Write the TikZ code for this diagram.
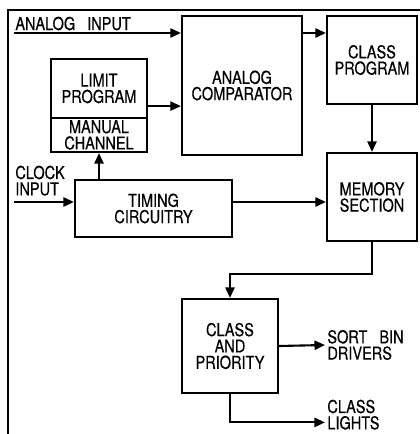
\documentclass[tikz,border=0pt]{standalone}
\usepackage{fontspec}
\setmainfont[FakeStretch=0.82, FakeBold=0.4]{TeX Gyre Heros}
\usetikzlibrary{arrows.meta}
\tikzset{
  blk/.style={draw, line width=1.5pt, align=center, inner sep=0pt},
  lbl/.style={align=left, inner sep=1.5pt},
  flow/.style={line width=1.5pt, -{Triangle[length=7.5pt,width=6.5pt]}},
}
\begin{document}
\begin{tikzpicture}[x=0.025cm, y=-0.025cm, font=\fontsize{12.6}{11.6}\selectfont]
        \useasboundingbox (0,0) rectangle (420,434);
        % Frame on the left and top.
            \draw[line width=0.9pt] (8,434) -- (8,10) -- (420,10);
        % The blocks.
            \node[blk, minimum width=2.4cm, minimum height=1.475cm] (limit) at (99,88.5) {LIMIT\\PROGRAM};
            \node[blk, minimum width=2.4cm, minimum height=0.85cm] (manual) at (99,135) {MANUAL\\CHANNEL};
            \node[blk, minimum width=3cm, minimum height=3.475cm] (comp) at (242,85.5) {ANALOG\\COMPARATOR};
            \node[blk, minimum width=2.25cm, minimum height=2.2cm] (cprog) at (372,60) {CLASS\\PROGRAM};
            \node[blk, minimum width=2.25cm, minimum height=2.2cm] (mem) at (372,197) {MEMORY\\SECTION};
            \node[blk, minimum width=3.925cm, minimum height=1.425cm] (timing) at (153.5,208.5) {TIMING\\CIRCUITRY};
            \node[blk, minimum width=2.4cm, minimum height=2.35cm] (prio) at (230,346) {CLASS\\AND\\PRIORITY};
        % Below nodes are the labels.
            \node[lbl, anchor=base west] (ainl) at (13,30) {ANALOG\hspace{0.3cm}INPUT};
            \node[lbl, anchor=south west] (clkl) at (13,198) {CLOCK\\INPUT};
            \node[lbl, anchor=west] (sort) at (325,345) {SORT\hspace{0.3cm}BIN\\DRIVERS};
            \node[lbl, anchor=south west] (lights) at (325,432) {CLASS\\LIGHTS};
        % Inputs and connectors.
            \coordinate (ain) at (14,33);
            \coordinate (clk) at (14,202);
            \coordinate (lc) at ([yshift=-0.44cm]limit.east);
            \draw[flow] (ain) -- (ain -| comp.west);
            \draw[flow] (comp.east |- ain) -- (cprog.west |- ain);
            \draw[flow] (lc) -- (lc -| comp.west);
            \draw[flow] (clk) -- (clk -| timing.west);
            \draw[flow] (manual.south |- timing.north) -- (manual.south);
            \draw[flow] (timing.east |- clk) -- (mem.west |- clk);
            \draw[flow] (cprog.south) -- (mem.north);
            \draw[flow] (mem.south) -- ++(0,32) -| (prio.north);
            \draw[flow] (prio.east) -- (sort.west);
            \draw[flow] (prio.south) |- ([yshift=0.24cm]lights.south west);
    \end{tikzpicture}
\end{document}
